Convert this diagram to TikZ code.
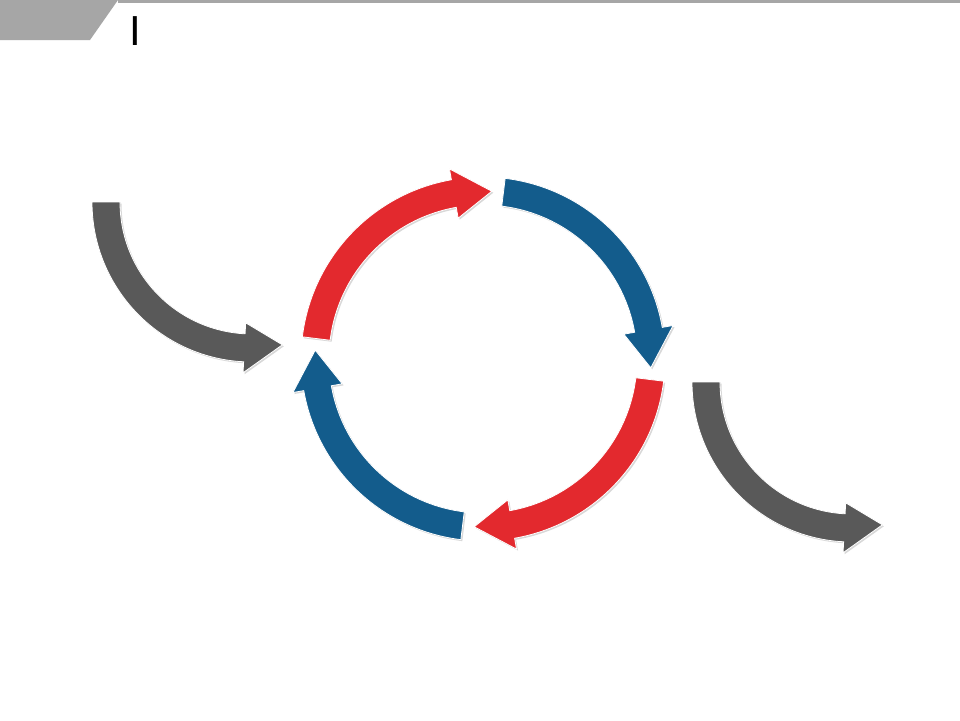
\documentclass[tikz,border=0pt]{standalone}
\usepackage{fontspec}
\setmainfont{Liberation Sans}
\usetikzlibrary{shadows}

\definecolor{cycred}{RGB}{227,41,46}
\definecolor{cycblue}{RGB}{19,92,140}
\definecolor{flowgray}{RGB}{89,89,89}
\definecolor{tabgray}{RGB}{166,166,166}

\begin{document}
\begin{tikzpicture}[x=1pt,y=1pt,
  shaft/.style={draw=white,line width=0.8pt,drop shadow={opacity=0.3,shadow xshift=1.5pt,shadow yshift=-1.5pt}},
  bentarrow/.style n args={4}{insert path={(#2:#1+14) arc[start angle=#2,end angle=#3,radius=#1+14]
    -- (#3:#1+25) -- (#4:#1) -- (#3:#1-25) -- (#3:#1-14)
    arc[start angle=#3,end angle=#2,radius=#1-14] -- cycle}}]
  \useasboundingbox[fill=white] (0,0) rectangle (960,-720);
  % header strip
  \fill[tabgray] (0,0) -- (118,0) -- (90,-40) -- (0,-40) -- cycle;
  \fill[tabgray] (118,0) rectangle (960,-3);
  \node[anchor=base,inner sep=0pt,font=\fontsize{42}{42}\selectfont] (title) at (135,-45) {I};
  % the cycle
  \coordinate (cyc) at (483,-359);
  \foreach \a/\col in {180/cycred,90/cycblue,0/cycred,-90/cycblue}
    \path[shift={(cyc)},fill=\col,shaft,bentarrow={168}{\a-7}{\a-80}{\a-93}];
  % flow in and out
  \coordinate (inflow) at (252,-202);
  \coordinate (outflow) at (852,-382);
  \foreach \c in {inflow,outflow}
    \path[shift={(\c)},fill=flowgray,shaft,bentarrow={146}{180}{267}{282}];
\end{tikzpicture}
\end{document}
